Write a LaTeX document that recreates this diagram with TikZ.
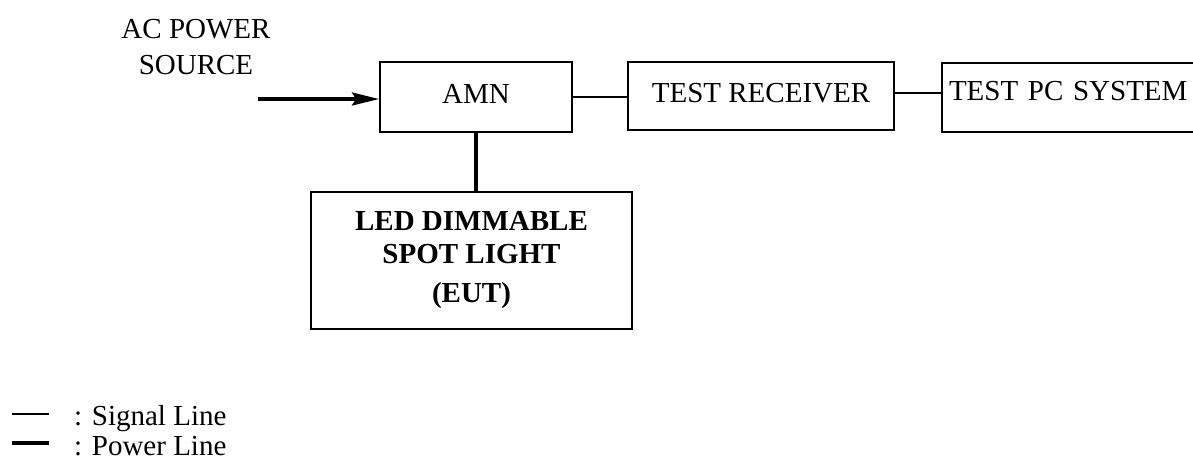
\documentclass[tikz,border=0pt]{standalone}
\usepackage{fontspec}
\setmainfont{Liberation Serif}
\usetikzlibrary{arrows.meta}
\begin{document}
\begin{tikzpicture}[x=1pt,y=-1pt,
  every node/.style={font=\fontsize{29}{36}\selectfont},
  box/.style={draw,line width=2pt,rectangle,inner sep=0pt},
  signal/.style={line width=1.3pt},
  power/.style={line width=3.4pt},
  txt/.style={inner sep=0pt}]
\useasboundingbox (0,0) rectangle (1193,459);
\clip (0,0) rectangle (1193,459);
% source label
\node[txt,align=center] (src) at (196,47) {AC POWER\\SOURCE};
% boxes
\node[box,minimum width=192pt,minimum height=70pt,text height=19pt,text depth=7pt] (amn) at (476,97) {AMN};
\node[box,minimum width=266pt,minimum height=68pt,text height=19pt,text depth=7pt] (tr) at (761,96) {TEST RECEIVER};
\node[box,anchor=west,minimum height=69pt,text width=255pt,align=left,inner xsep=7pt,text height=18pt,text depth=13pt] (pc) at (941,97.5) {TEST PC SYSTEM};
\node[box,minimum width=321pt,minimum height=137pt,align=center,font=\fontsize{29}{33}\selectfont\bfseries] (eut) at (471.5,260) {LED DIMMABLE\\SPOT LIGHT\\[6pt](EUT)};
% connectors
\coordinate (acin) at (258,99);
\draw[power,-{Stealth[length=27pt,width=13pt,inset=4pt]}] (acin) -- (acin -| amn.west);
\draw[signal] (amn.east) -- (amn.east -| tr.west);
\draw[signal] ([yshift=3pt]tr.east) -- ([yshift=3pt]tr.east -| pc.west);
\draw[power] (amn.south) -- (amn.south |- eut.north);
% legend
\coordinate (s1) at (12,414);
\coordinate (s2) at (49,414);
\coordinate (p1) at (12,443);
\coordinate (p2) at (49,443);
\draw[signal] (s1) -- (s2);
\draw[power] (p1) -- (p2);
\node[txt,anchor=base west,text depth=0pt] (lsig) at (74,425) {: Signal Line};
\node[txt,anchor=base west] (lpow) at (74,455) {: Power Line};
\end{tikzpicture}
\end{document}
